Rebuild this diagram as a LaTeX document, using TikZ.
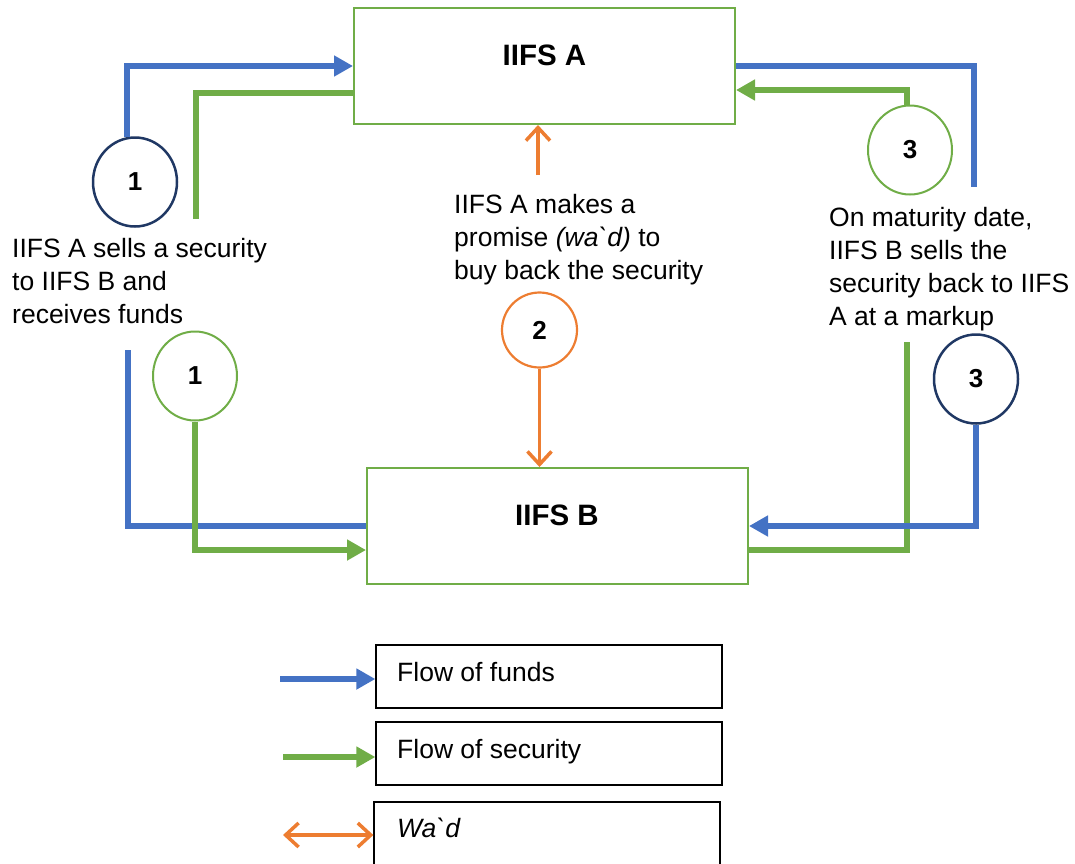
\documentclass[tikz,border=0pt]{standalone}
\usepackage{fontspec}
\setmainfont{Liberation Sans}
\usetikzlibrary{arrows.meta,shapes.geometric}

\definecolor{fundblue}{HTML}{4472C4}
\definecolor{secgreen}{HTML}{70AD47}
\definecolor{wadorange}{HTML}{ED7D31}
\definecolor{ringnavy}{HTML}{203864}

\begin{document}
\begin{tikzpicture}[x=1pt,y=-1pt,
          greenbox/.style={rectangle, draw=secgreen, line width=2pt,
            minimum width=381pt, minimum height=116pt},
          keybox/.style={rectangle, draw=black, line width=1.3pt, minimum width=346pt, minimum height=63pt},
          navyring/.style={ellipse, draw=ringnavy, line width=2.5pt, minimum width=84pt, minimum height=89pt,
            font=\bfseries\fontsize{26}{26}\selectfont},
          greenring/.style={navyring, draw=secgreen, line width=2pt},
          orangering/.style={circle, draw=wadorange, line width=2.2pt, minimum size=75pt,
            font=\bfseries\fontsize{26}{26}\selectfont},
          boxtitle/.style={font=\bfseries\fontsize{29.5}{30}\selectfont, inner sep=0pt, anchor=base},
          words/.style={font=\fontsize{26.5}{33}\selectfont, align=left, inner sep=0pt, anchor=north west},
          keywords/.style={font=\fontsize{26.5}{33}\selectfont, inner sep=0pt, anchor=base west},
          bluepipe/.style={draw=fundblue, line width=6pt},
          greenpipe/.style={draw=secgreen, line width=6pt},
          bluearrow/.style={bluepipe, -{Triangle[length=19pt,width=20pt]}},
          greenarrow/.style={greenpipe, -{Triangle[length=19pt,width=20pt]}},
          orangeline/.style={draw=wadorange, line width=3.5pt}]

        \useasboundingbox (0,0) rectangle (1075,863);

        % the two banks
        \node[greenbox] (boxA) at (544.5,66) {};
        \node[boxtitle]        at (544.5,65) {IIFS A};
        \node[greenbox] (boxB) at (557.5,526) {};
        \node[boxtitle]        at (557,525) {IIFS B};

        % step 1
        \node[navyring]  (n1) at (135,182) {1};
        \node[greenring] (g1) at (195,376) {1};
        \node[words] (sellText) at (12,238) {IIFS A sells a security\\to IIFS B and\\receives funds};

        \coordinate (secTopL)   at (196,219);
        \coordinate (fundsBotL) at (128,350);

        \draw[bluearrow] (n1.100)   |- (boxA.west);
        \draw[greenpipe] (secTopL)  |- ([yshift=-27pt]boxA.west);
        \draw[bluepipe]  (fundsBotL) |- (boxB.west);
        \draw[greenarrow] (g1.south) |- ([yshift=-24pt]boxB.west);

        % step 2
        \node[orangering] (c2) at (539.5,330) {2};
        \node[words] (promiseText) at (454,194) {IIFS A makes a\\promise \textit{(wa\textasciigrave d)} to\\buy back the security};

        \coordinate (wadTail) at (538,175);
        \draw[orangeline, -{Straight Barb[length=13pt,width=24pt]}] (wadTail) -- (wadTail |- boxA.south);
        \draw[orangeline, -{Straight Barb[length=13pt,width=24pt]}] (c2.south) -- (c2.south |- boxB.north);

        % step 3
        \node[greenring] (g3) at (910,150) {3};
        \node[navyring]  (n3) at (976,379) {3};
        \node[words] (maturityText) at (829,207) {On maturity date,\\IIFS B sells the\\security back to IIFS\\A at a markup};

        \coordinate (fundsTopR) at (974,187);
        \coordinate (secBotR)   at (907,342);

        \draw[bluepipe]   (boxA.east) -| (fundsTopR);
        \draw[greenarrow] (g3.94)     |- ([yshift=-24pt]boxA.east);
        \draw[greenpipe]  (secBotR)   |- ([yshift=-24pt]boxB.east);
        \draw[bluearrow]  (n3.south)  |- (boxB.east);

        % key
        \node[keybox] (fundsKey) at (549,676.5) {};
        \node[keybox] (secKey)   at (549,753.5) {};
        \node[keybox] (wadKey)   at (547,833.5) {};

        \node[keywords] at (397,681) {Flow of funds};
        \node[keywords] at (397,758) {Flow of security};
        \node[keywords] at (397,837) {\textit{Wa\textasciigrave d}};

        \coordinate (fundsTail)  at (280,679);
        \coordinate (secTail)    at (283,757);
        \coordinate (wadKeyTail) at (283,835);

        \draw[bluearrow]  (fundsTail) -- (fundsTail -| fundsKey.west);
        \draw[greenarrow] (secTail)   -- (secTail -| secKey.west);
        \draw[orangeline, {Straight Barb[length=13pt,width=24pt]}-{Straight Barb[length=13pt,width=24pt]}]
          (wadKeyTail) -- (wadKeyTail -| wadKey.west);

      \end{tikzpicture}
\end{document}
